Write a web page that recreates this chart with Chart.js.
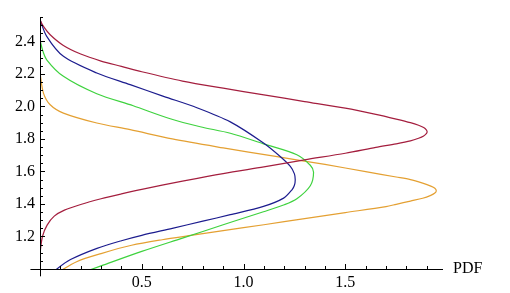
<!DOCTYPE html>
<html>
<head>
<meta charset="utf-8">
<script src="https://cdn.jsdelivr.net/npm/chart.js@4/dist/chart.umd.min.js"></script>
<style>
  html, body { margin: 0; padding: 0; background: #fff; }
  #wrap { width: 510px; height: 293px; }
</style>
</head>
<body>
<div id="wrap"><canvas id="pdfChart" width="510" height="293"></canvas></div>
<script>
// values: y value and the PDF at that y, in order along each curve
const redY   = [2.533, 2.492, 2.441, 2.375, 2.322, 2.279, 2.246, 2.213, 2.156, 2.112, 2.071, 2.03, 1.989, 1.951, 1.922, 1.90, 1.884, 1.87, 1.856, 1.844, 1.832, 1.818, 1.804, 1.788, 1.77, 1.748, 1.712, 1.671, 1.628, 1.587, 1.54, 1.49, 1.462, 1.432, 1.397, 1.362, 1.325, 1.27, 1.2, 1.098];
const redPdf = [0, 0.017, 0.05, 0.115, 0.2, 0.3, 0.4, 0.5, 0.7, 0.9, 1.1, 1.3, 1.5, 1.65, 1.75, 1.82, 1.86, 1.885, 1.898, 1.902, 1.898, 1.885, 1.86, 1.82, 1.75, 1.65, 1.5, 1.3, 1.1, 0.9, 0.7, 0.5, 0.4, 0.3, 0.2, 0.12, 0.07, 0.035, 0.012, 0];

const blueY   = [2.533, 2.431, 2.308, 2.206, 2.134, 2.062, 1.992, 1.905, 1.775, 1.692, 1.631, 1.585, 1.549, 1.515, 1.487, 1.436, 1.385, 1.334, 1.294, 1.25, 1.207, 1.174, 1.127, 1.058, 1.0, 0.97];
const bluePdf = [0, 0.033, 0.115, 0.279, 0.443, 0.607, 0.771, 0.935, 1.098, 1.18, 1.23, 1.25, 1.254, 1.25, 1.238, 1.197, 1.098, 0.935, 0.8, 0.65, 0.5, 0.4, 0.28, 0.15, 0.083, 0.06];

const greenY   = [2.409, 2.349, 2.287, 2.185, 2.078, 2.004, 1.924, 1.875, 1.835, 1.77, 1.703, 1.638, 1.595, 1.512, 1.432, 1.395, 1.352, 1.30, 1.272, 1.19, 1.108, 1.019, 0.974];
const greenPdf = [0, 0.012, 0.033, 0.115, 0.279, 0.458, 0.64, 0.787, 0.935, 1.098, 1.262, 1.328, 1.344, 1.328, 1.262, 1.2, 1.098, 0.968, 0.9, 0.7, 0.5, 0.3, 0.2];

const orangeY   = [2.206, 2.082, 2.01, 1.959, 1.898, 1.857, 1.80, 1.745, 1.694, 1.643, 1.599, 1.566, 1.55, 1.528, 1.51, 1.497, 1.482, 1.467, 1.453, 1.435, 1.418, 1.398, 1.384, 1.347, 1.31, 1.272, 1.236, 1.208, 1.18, 1.146, 1.095, 1.045, 0.975];
const orangePdf = [0, 0.017, 0.05, 0.115, 0.279, 0.443, 0.65, 0.9, 1.15, 1.4, 1.6, 1.75, 1.82, 1.88, 1.92, 1.94, 1.947, 1.94, 1.92, 1.88, 1.82, 1.75, 1.7, 1.5, 1.3, 1.1, 0.9, 0.75, 0.6, 0.45, 0.3, 0.18, 0.083];

const xTickLabels = ["0.5", "1.0", "1.5"];
const yTickLabels = ["1.2", "1.4", "1.6", "1.8", "2.0", "2.2", "2.4"];

function toPoints(ys, pdfs) {
    return ys.map((y, i) => ({ x: pdfs[i], y: y }));
}

function series(ys, pdfs, color) {
    return {
        data: toPoints(ys, pdfs),
        borderColor: color,
        borderWidth: 1.2,
        pointRadius: 0,
        showLine: true,
        fill: false,
        tension: 0.3
    };
}

const serif = { family: "'Liberation Serif', 'Times New Roman', serif", size: 16 };

// axes lines, inward tick marks and the "PDF" label, drawn like Mathematica does
const mmaAxes = {
    id: "mmaAxes",
    afterDraw(chart) {
        const c = chart.ctx;
        const xs = chart.scales.x;
        const ys = chart.scales.y;
        const x0 = xs.getPixelForValue(0);
        const y0 = ys.getPixelForValue(1.0);
        c.save();
        c.strokeStyle = "#000";
        c.lineWidth = 1;
        c.beginPath();
        c.moveTo(xs.getPixelForValue(-0.047), y0 + 0.5);
        c.lineTo(xs.right, y0 + 0.5);
        c.moveTo(x0 + 0.5, ys.getPixelForValue(0.955));
        c.lineTo(x0 + 0.5, ys.top);
        for (let i = 1; i <= 19; i++) {
            const px = Math.round(xs.getPixelForValue(i / 10)) + 0.5;
            const len = i % 5 === 0 ? 5 : 3;
            c.moveTo(px, y0);
            c.lineTo(px, y0 - len);
        }
        for (let i = 1; i <= 31; i++) {
            const v = 1.0 + i * 0.05;
            if (v > ys.max) break;
            const py = Math.round(ys.getPixelForValue(v)) + 0.5;
            const len = i % 4 === 0 ? 5 : 3;
            c.moveTo(x0, py);
            c.lineTo(x0 + len, py);
        }
        c.stroke();
        c.fillStyle = "#000";
        c.font = "16px " + serif.family;
        c.textBaseline = "middle";
        c.fillText("PDF", xs.right + 10, y0);
        c.restore();
    }
};

const ctx = document.getElementById("pdfChart").getContext("2d");
let chart = new Chart(ctx, {
    type: "scatter",
    data: {
        datasets: [
            series(redY, redPdf, "#a41e3e"),
            series(blueY, bluePdf, "#1c1c8e"),
            series(greenY, greenPdf, "#3ed23e"),
            series(orangeY, orangePdf, "#e4a032")
        ]
    },
    options: {
        responsive: false,
        animation: false,
        layout: { padding: { left: 0, right: 67, top: 17, bottom: 0 } },
        plugins: { legend: { display: false }, tooltip: { enabled: false } },
        scales: {
            x: {
                type: "linear",
                min: 0,
                max: 1.98,
                grid: { display: false, drawTicks: false },
                border: { display: false },
                afterFit: s => { s.height = 24; },
                ticks: {
                    stepSize: 0.5,
                    includeBounds: false,
                    autoSkip: false,
                    maxRotation: 0,
                    padding: 4,
                    color: "#000",
                    font: serif,
                    callback: v => {
                        const t = v.toFixed(1);
                        return xTickLabels.includes(t) ? t : "";
                    }
                }
            },
            y: {
                type: "linear",
                min: 1.0,
                max: 2.55,
                grid: { display: false, drawTicks: false },
                border: { display: false },
                afterFit: s => { s.width = 40; },
                ticks: {
                    stepSize: 0.2,
                    includeBounds: false,
                    autoSkip: false,
                    padding: 5,
                    color: "#000",
                    font: serif,
                    callback: v => {
                        const t = v.toFixed(1);
                        return yTickLabels.includes(t) ? t : "";
                    }
                }
            }
        }
    },
    plugins: [mmaAxes]
});
</script>
</body>
</html>
